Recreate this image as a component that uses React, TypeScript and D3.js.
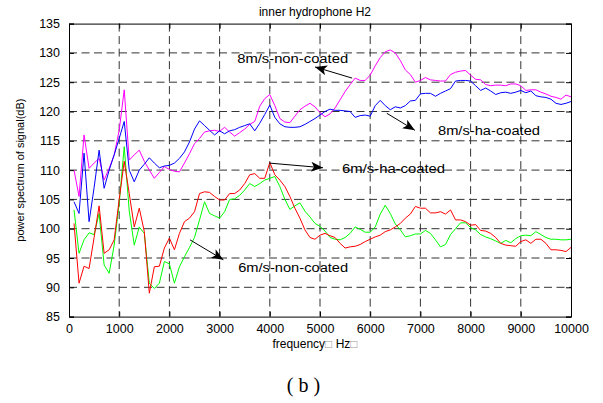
import { useRef, useEffect } from 'react';
import * as d3 from 'd3';

// frequency grid, Hz
const freqs = d3.range(1, 101).map((i) => i * 100);

// 6m/s ha-coated (red)
const red6ha = [
  100.9, 90.7, 93.6, 93.2, 98.5, 103.9, 95.8, 96.4, 98.1, 105.0,
  111.5, 106.0, 100.3, 103.5, 99.5, 89.0, 93.5, 93.6, 96.7, 98.4,
  96.4, 99.2, 101.2, 101.8, 102.9, 106.0, 106.3, 106.2, 105.5, 104.9,
  104.9, 106.0, 106.0, 106.6, 107.7, 109.2, 109.4, 108.6, 108.6, 111.3,
  109.2, 108.3, 107.2, 105.5, 103.5, 101.8, 99.8, 98.5, 98.2, 98.9,
  99.2, 98.8, 98.5, 97.5, 96.7, 96.9, 97.0, 97.3, 97.8, 98.2,
  98.6, 98.9, 99.5, 99.8, 100.3, 100.9, 101.8, 102.5, 103.8, 103.5,
  103.5, 102.7, 102.7, 102.9, 102.5, 103.2, 101.5, 101.5, 101.2, 100.6,
  100.7, 99.7, 99.6, 99.2, 98.5, 97.5, 97.2, 97.1, 97.0, 97.8,
  98.1, 97.5, 98.2, 98.2, 97.5, 96.4, 96.4, 96.3, 96.1, 96.8,
];

// 6m/s non-coated (green)
const green6non = [
  103.2, 95.8, 98.1, 99.3, 99.0, 102.6, 93.8, 92.4, 97.2, 104.3,
  114.0, 103.0, 97.2, 100.3, 99.2, 90.7, 89.8, 90.7, 94.4, 94.0,
  90.7, 93.5, 95.2, 96.8, 98.5, 101.5, 104.6, 102.6, 102.2, 101.8,
  102.9, 105.0, 105.1, 105.7, 106.6, 107.7, 107.2, 107.7, 108.3, 108.6,
  108.9, 107.2, 105.0, 103.3, 103.9, 104.4, 103.0, 102.0, 100.9, 100.4,
  99.6, 98.5, 98.2, 98.1, 98.5, 99.2, 100.3, 99.9, 99.4, 99.4,
  100.3, 102.5, 104.0, 102.6, 100.8, 99.8, 98.6, 98.8, 99.1, 99.1,
  99.7, 99.2, 98.1, 96.9, 97.3, 99.0, 100.0, 101.0, 101.0, 100.2,
  99.8, 99.0, 98.6, 98.3, 97.9, 97.5, 98.0, 97.6, 98.3, 98.8,
  98.9, 98.8, 99.5, 99.0, 98.5, 98.2, 98.2, 98.1, 98.1, 98.2,
];

// 8m/s ha-coated (blue)
const blue8ha = [
  104.6, 102.6, 112.9, 101.2, 107.0, 113.4, 106.9, 110.0, 112.6, 115.4,
  118.3, 110.0, 108.0, 110.0, 111.0, 112.1, 111.2, 110.4, 110.7, 110.8,
  111.2, 112.0, 113.1, 114.8, 117.0, 118.4, 117.6, 116.8, 116.0, 116.7,
  116.2, 116.7, 116.9, 117.3, 117.6, 117.9, 116.7, 118.0, 119.5, 121.1,
  119.0, 117.9, 117.4, 117.3, 117.3, 117.4, 117.8, 118.3, 118.8, 119.4,
  120.0, 120.4, 120.2, 120.2, 120.1, 120.0, 119.0, 119.3, 119.4, 119.2,
  121.0, 121.9, 121.0, 120.3, 120.8, 120.6, 121.0, 121.8, 121.9, 123.0,
  123.1, 123.1, 122.6, 123.1, 123.5, 123.9, 125.2, 125.3, 125.3, 125.2,
  124.4, 123.6, 124.0, 123.5, 122.9, 123.2, 123.3, 123.1, 123.3, 123.6,
  123.2, 123.5, 122.7, 122.5, 122.4, 122.1, 121.4, 121.2, 121.4, 121.7,
];

// 8m/s non-coated (magenta)
const magenta8non = [
  110.0, 105.5, 116.0, 110.3, 111.2, 112.0, 108.3, 110.3, 112.6, 116.8,
  123.7, 111.7, 112.6, 113.4, 111.5, 110.0, 108.6, 109.6, 110.6, 110.1,
  109.8, 109.7, 111.2, 112.8, 114.5, 115.4, 116.5, 116.7, 116.8, 116.6,
  117.3, 116.5, 115.8, 116.4, 117.0, 117.8, 118.3, 120.9, 122.2, 122.9,
  121.0, 118.8, 118.2, 118.1, 119.2, 120.3, 120.9, 121.4, 120.8, 119.8,
  119.1, 119.6, 120.6, 122.0, 123.4, 124.6, 125.7, 125.3, 125.3, 126.2,
  127.8, 129.2, 130.2, 130.5, 130.0, 128.7, 127.1, 126.3, 125.0, 125.3,
  125.8, 125.4, 125.3, 125.2, 125.2, 126.3, 126.7, 126.9, 127.0, 126.2,
  125.5, 125.4, 124.6, 124.4, 124.5, 124.5, 124.4, 124.7, 124.7, 124.4,
  123.6, 123.7, 123.7, 123.3, 123.0, 122.6, 122.4, 122.1, 122.8, 122.5,
];

const xTicks = [0, 1000, 2000, 3000, 4000, 5000, 6000, 7000, 8000, 9000, 10000];
const yTicks = [85, 90, 95, 100, 105, 110, 115, 120, 125, 130, 135];

// label text, text anchor (Hz, dB), arrow tail and head (Hz, dB), text width px
const notes = [
  { text: '8m/s-non-coated', at: [3350, 129.1], from: [5640, 125.7], to: [4900, 127.6], w: 111 },
  { text: '8m/s-ha-coated', at: [7350, 116.7], from: [6330, 119.7], to: [6890, 116.8], w: 102 },
  { text: '6m/s-ha-coated', at: [5440, 110.2], from: [3985, 111.2], to: [5060, 110.4], w: 103 },
  { text: '6m/s-non-coated', at: [3370, 93.3], from: [2410, 98.1], to: [3075, 94.7], w: 110 },
];

const W = 603;
const H = 403;
const font = '"Liberation Sans", Arial, sans-serif';

const Chart = () => {
  const svgRef = useRef<SVGSVGElement | null>(null);

  useEffect(() => {
    if (!svgRef.current) return;
    const svg = d3.select(svgRef.current);
    svg.selectAll('*').remove();

    const margin = { top: 23.6, right: 32, bottom: 86.4, left: 69 };
    const innerWidth = W - margin.left - margin.right;
    const innerHeight = H - margin.top - margin.bottom;

    const x = d3.scaleLinear().domain([0, 10000]).range([0, innerWidth]);
    const y = d3.scaleLinear().domain([85, 135]).range([innerHeight, 0]);

    svg
      .append('defs')
      .append('marker')
      .attr('id', 'head')
      .attr('viewBox', '0 0 12 10')
      .attr('refX', 12)
      .attr('refY', 5)
      .attr('markerWidth', 12)
      .attr('markerHeight', 10)
      .attr('markerUnits', 'userSpaceOnUse')
      .attr('orient', 'auto')
      .append('path')
      .attr('d', 'M0,0 L12,5 L0,10 L3,5 Z')
      .attr('fill', '#000');

    const g = svg
      .append('g')
      .attr('transform', `translate(${margin.left},${margin.top})`);

    // dashed grid
    const grid = g.append('g').attr('stroke', '#333').attr('stroke-dasharray', '8,4.5');
    grid
      .selectAll('line.v')
      .data(xTicks.slice(1, -1))
      .join('line')
      .attr('x1', (d) => x(d))
      .attr('x2', (d) => x(d))
      .attr('y1', 0)
      .attr('y2', innerHeight);
    grid
      .selectAll('line.h')
      .data(yTicks.slice(1, -1))
      .join('line')
      .attr('class', 'h')
      .attr('x1', 0)
      .attr('x2', innerWidth)
      .attr('y1', (d) => y(d))
      .attr('y2', (d) => y(d));

    const series = [
      { vals: magenta8non, color: '#ff00ff' },
      { vals: blue8ha, color: '#0000ff' },
      { vals: green6non, color: '#00ff00' },
      { vals: red6ha, color: '#ff0000' },
    ];

    const line = d3
      .line<number>()
      .x((_, i) => x(freqs[i]))
      .y((d) => y(d));

    series.forEach((s) => {
      g.append('path')
        .datum(s.vals)
        .attr('fill', 'none')
        .attr('stroke', s.color)
        .attr('stroke-width', 1)
        .attr('d', line);
    });

    // axes with inward ticks on all sides
    const styleAxis = (sel: d3.Selection<SVGGElement, unknown, null, undefined>) => {
      sel.select('.domain').attr('stroke', '#000');
      sel.selectAll('.tick line').attr('stroke', '#000');
      sel
        .selectAll('.tick text')
        .attr('font-family', font)
        .attr('font-size', 12.5)
        .attr('fill', '#000');
    };

    g.append('g')
      .attr('transform', `translate(0,${innerHeight})`)
      .call(d3.axisBottom(x).tickValues(xTicks).tickSize(-5).tickPadding(8).tickFormat(d3.format('d')))
      .call(styleAxis);
    g.append('g')
      .call(d3.axisTop(x).tickValues(xTicks).tickSize(-5).tickFormat(() => ''))
      .call(styleAxis);
    g.append('g')
      .call(d3.axisLeft(y).tickValues(yTicks).tickSize(-5).tickPadding(9).tickFormat(d3.format('d')))
      .call(styleAxis);
    g.append('g')
      .attr('transform', `translate(${innerWidth},0)`)
      .call(d3.axisRight(y).tickValues(yTicks).tickSize(-5).tickFormat(() => ''))
      .call(styleAxis);

    // annotations
    notes.forEach((n) => {
      g.append('line')
        .attr('x1', x(n.from[0]))
        .attr('y1', y(n.from[1]))
        .attr('x2', x(n.to[0]))
        .attr('y2', y(n.to[1]))
        .attr('stroke', '#000')
        .attr('stroke-width', 1)
        .attr('marker-end', 'url(#head)');
      g.append('text')
        .attr('x', x(n.at[0]))
        .attr('y', y(n.at[1]))
        .attr('dy', '0.35em')
        .attr('font-family', font)
        .attr('font-size', 12.5)
        .attr('textLength', n.w)
        .attr('lengthAdjust', 'spacingAndGlyphs')
        .text(n.text);
    });

    // titles
    svg
      .append('text')
      .attr('x', 315)
      .attr('y', 16)
      .attr('text-anchor', 'middle')
      .attr('font-family', font)
      .attr('font-size', 12)
      .text('inner hydrophone H2');

    const xl = svg
      .append('text')
      .attr('x', margin.left + innerWidth / 2 - 5)
      .attr('y', 348)
      .attr('text-anchor', 'middle')
      .attr('font-family', font)
      .attr('font-size', 12);
    xl.append('tspan').text('frequency');
    xl.append('tspan').attr('fill', '#999').text('\u25A1 ');
    xl.append('tspan').text('Hz');
    xl.append('tspan').attr('fill', '#999').text('\u25A1');

    svg
      .append('text')
      .attr('transform', `translate(24,${margin.top + innerHeight / 2}) rotate(-90)`)
      .attr('text-anchor', 'middle')
      .attr('font-family', font)
      .attr('font-size', 11)
      .text('power spectrum of signal(dB)');

    svg
      .append('text')
      .attr('x', 306)
      .attr('y', 392)
      .attr('text-anchor', 'middle')
      .attr('font-family', '"Liberation Serif", serif')
      .attr('font-size', 20)
      .attr('letter-spacing', 5)
      .text('(b)');
  }, []);

  return <svg ref={svgRef} width={W} height={H} style={{ display: 'block', background: '#fff' }} />;
};

export default function App() {
  return (
    <>
      <style>{'body{margin:0;background:#fff}'}</style>
      <Chart />
    </>
  );
}
